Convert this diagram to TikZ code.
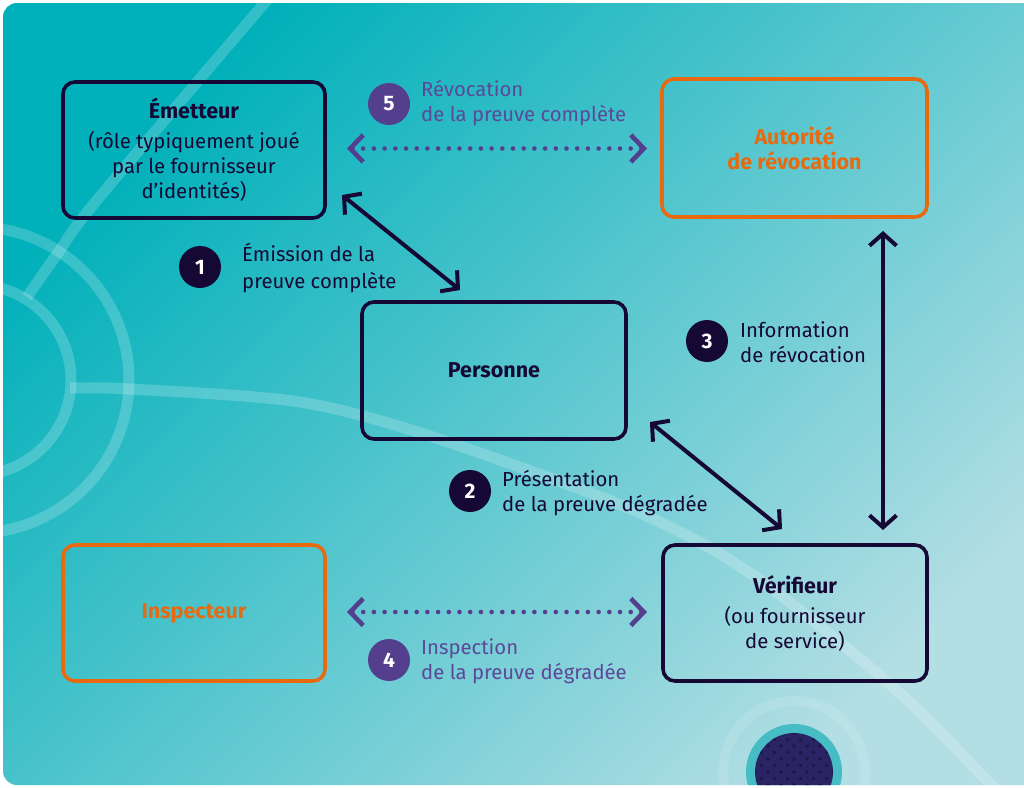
\documentclass[tikz,border=0pt]{standalone}
\usepackage{fontspec}
\setmainfont{Fira Sans}
\usetikzlibrary{arrows.meta}

\definecolor{ink}{RGB}{22,8,52}
\definecolor{flame}{RGB}{232,106,16}
\definecolor{violet}{RGB}{84,62,142}
\definecolor{violettext}{RGB}{92,72,152}
\definecolor{tealA}{RGB}{0,176,186}
\definecolor{tealB}{RGB}{78,190,198}
\definecolor{tealC}{RGB}{178,222,228}
\definecolor{ringteal}{RGB}{70,188,196}
\definecolor{disc}{RGB}{42,36,100}
\definecolor{discdot}{RGB}{28,22,72}

\newcommand{\regsize}{\fontsize{20.3}{25}\selectfont}
\newcommand{\titlesize}{\fontsize{21.5}{25}\selectfont\bfseries}

\tikzset{
  box/.style={rectangle, rounded corners=12pt, line width=3.6pt,
    minimum width=262pt, minimum height=136pt, align=center, inner sep=0pt,
    font=\regsize},
  darkbox/.style={box, draw=ink, text=ink},
  hotbox/.style={box, draw=flame, text=flame, font=\titlesize},
  badge/.style={circle, minimum size=42pt, inner sep=0pt, text=white,
    font=\fontsize{21}{21}\selectfont\bfseries},
  darkbadge/.style={badge, fill=ink},
  violetbadge/.style={badge, fill=violet},
  caption/.style={anchor=west, align=left, inner sep=0pt, font=\regsize},
  darkcaption/.style={caption, text=ink},
  violetcaption/.style={caption, text=violettext},
  link/.style={draw=ink, line width=4pt,
    {Straight Barb[length=12pt,width=27pt]}-{Straight Barb[length=12pt,width=27pt]}},
  dotlink/.style={draw=violet, line width=4.6pt, line cap=round,
    dash pattern=on 0pt off 10.7pt,
    {Straight Barb[length=13pt,width=27pt]}-{Straight Barb[length=13pt,width=27pt]}},
  glow/.style={draw=white, draw opacity=0.2, line width=11pt},
}

\begin{document}
\begin{tikzpicture}[x=1pt,y=-1pt]
  \useasboundingbox (0,0) rectangle (1024,787);
  \clip (0,0) rectangle (1024,787);
  \fill[white] (0,0) rectangle (1024,787);

  % panel with diagonal gradient
  \shade[top color=tealA, middle color=tealB, bottom color=tealC,
    shading angle=45, rounded corners=14pt] (3,3) rectangle (1045,785);

  % decorative rings and sweeping lines
  \begin{scope}
    \clip[rounded corners=14pt] (3,3) rectangle (1045,785);
    \draw[glow] (-24,380) circle[radius=95];
    \draw[glow] (-24,380) circle[radius=153];
    \draw[glow] plot[smooth] coordinates {(274,-8) (97,200) (58,253) (27,297)};
    \draw[glow] plot[smooth] coordinates {(70,388) (130,389) (300,402) (433,437)
      (633,510) (750,573) (893,687) (993,787) (1012,810)};

    % dotted disc at the bottom
    \draw[white, opacity=0.12, line width=10pt] (794,772) circle[radius=71];
    \fill[ringteal] (794,772) circle[radius=48];
    \fill[disc] (794,772) circle[radius=39];
    \begin{scope}
      \clip (794,772) circle[radius=39];
      \foreach \i in {-6,...,6}{
        \foreach \j in {-6,...,6}{
          \fill[discdot] ({794+6.5*(\i+\j)},{772+6.5*(\i-\j)}) circle[radius=1.9];
        }
      }
    \end{scope}
  \end{scope}

  % actors
  \node[darkbox] (emet) at (194,150)
    {{\titlesize Émetteur}\\[5pt](rôle typiquement joué\\par le fournisseur\\d’identités)};
  \node[hotbox, minimum width=265pt, minimum height=138pt] (auth) at (794.5,148)
    {Autorité\\de révocation};
  \node[darkbox, minimum width=264pt, minimum height=137pt] (pers) at (494,370.5)
    {{\titlesize Personne}};
  \node[hotbox] (insp) at (194,613) {Inspecteur};
  \node[darkbox, minimum width=264pt] (verif) at (795,613)
    {{\titlesize Vérifieur}\\[5pt](ou fournisseur\\de service)};

  % arrow end points
  \coordinate (a1s) at (342,195);
  \coordinate (a1e) at (460,290);
  \coordinate (a2s) at (650,422);
  \coordinate (a2e) at (782,529);
  \coordinate (a3s) at (883,231);
  \coordinate (a3e) at (883,530);
  \coordinate (a5s) at (347,148.5);
  \coordinate (a5e) at (647,148.5);
  \coordinate (a4s) at (347,612);
  \coordinate (a4e) at (647,612);

  % exchanges
  \draw[link] (a1s) -- (a1e);
  \draw[link] (a2s) -- (a2e);
  \draw[link] (a3s) -- (a3e);
  \draw[dotlink] (a5s) -- (a5e);
  \draw[dotlink] (a4s) -- (a4e);

  % numbered steps
  \node[darkbadge] (n1) at (200,267) {1};
  \node[darkcaption] (c1) at (242,268) {Émission de la\\[2pt]preuve complète};
  \node[darkbadge] (n2) at (470,491) {2};
  \node[darkcaption] (c2) at (502,493) {Présentation\\de la preuve dégradée};
  \node[darkbadge] (n3) at (707,341) {3};
  \node[darkcaption] (c3) at (740,342) {Information\\de révocation};
  \node[violetbadge] (n4) at (389,660) {4};
  \node[violetcaption] (c4) at (421,661) {Inspection\\de la preuve dégradée};
  \node[violetbadge] (n5) at (389,104) {5};
  \node[violetcaption] (c5) at (421,103) {Révocation\\de la preuve complète};
\end{tikzpicture}
\end{document}
